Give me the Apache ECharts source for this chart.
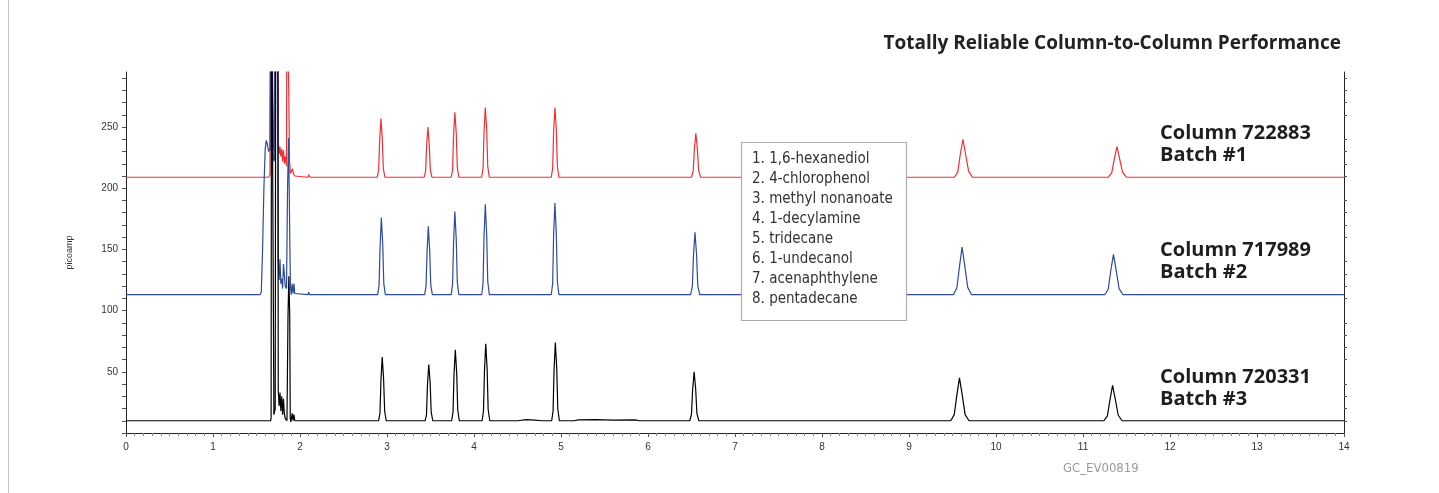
<!DOCTYPE html>
<html>
<head>
<meta charset="utf-8">
<script src="https://cdn.jsdelivr.net/npm/echarts@6/dist/echarts.min.js"></script>
<style>
html,body{margin:0;padding:0;background:#fff;}
#chart{width:1439px;height:493px;}
</style>
</head>
<body>
<div id="chart"></div>
<script>
// ---- data (retention time [min], signal [picoamp]) ----
const redTrace = [
  [0,209],[1.64,209],[1.655,211],[1.665,400],[1.685,400],[1.69,240],[1.70,232],[1.715,400],[1.74,400],
  [1.75,238],[1.76,228],[1.77,234],[1.78,226],[1.79,232],[1.80,222],[1.81,231],[1.82,220],[1.83,226],
  [1.845,218],[1.85,400],[1.872,400],[1.88,222],[1.89,212],[1.905,212],[1.915,216],[1.925,212],[1.94,210],
  [2.09,209],[2.10,211],[2.115,209],
  [2.888,209],[2.904,215],[2.915,238],[2.93,257],[2.946,240],[2.958,216],[2.976,209],
  [3.428,209],[3.444,214],[3.455,234],[3.47,250],[3.486,235],[3.498,215],[3.516,209],
  [3.738,209],[3.754,215],[3.765,243],[3.78,262],[3.796,245],[3.808,217],[3.826,209],
  [4.088,209],[4.104,216],[4.115,246],[4.13,266],[4.146,248],[4.158,218],[4.176,209],
  [4.888,209],[4.904,216],[4.915,246],[4.93,266],[4.946,248],[4.958,218],[4.976,209],
  [6.50,209],[6.52,214],[6.532,231],[6.55,245],[6.568,232],[6.582,214.5],[6.605,209],
  [9.52,209],[9.56,213],[9.59,228],[9.62,240],[9.65,228],[9.685,214],[9.73,209],
  [11.29,209],[11.33,212.5],[11.36,224],[11.39,234],[11.42,224.5],[11.455,213],[11.50,209],
  [14,209]
];
const blueTrace = [
  [0,113],[1.54,113],[1.555,115],[1.57,150],[1.585,200],[1.60,232],[1.612,239],[1.625,236],[1.64,230],
  [1.655,232],[1.663,400],[1.683,400],[1.69,225],[1.705,222],[1.718,400],[1.742,400],[1.75,140],[1.76,125],
  [1.77,142],[1.78,122],[1.79,126],[1.80,118],[1.81,138],[1.82,130],[1.83,120],[1.845,118],[1.857,200],
  [1.868,241],[1.876,200],[1.884,150],[1.89,120],[1.90,113],[1.91,122],[1.92,114],[1.93,122],[1.94,114],
  [1.96,113],[2.09,113],[2.10,115],[2.11,113],[2.40,113],[2.41,114.5],[2.43,113],[2.78,113],[2.80,114.5],[2.82,113],
  [2.893,113],[2.909,121],[2.92,151],[2.935,176],[2.951,154],[2.963,122],[2.981,113],
  [3.433,113],[3.449,120],[3.46,147],[3.475,169],[3.491,149],[3.503,121],[3.521,113],
  [3.738,113],[3.754,122],[3.765,155],[3.78,181],[3.796,158],[3.808,123],[3.826,113],
  [4.088,113],[4.104,122],[4.115,160],[4.13,187],[4.146,162],[4.158,124],[4.176,113],
  [4.888,113],[4.904,122],[4.915,161],[4.93,188],[4.946,163],[4.958,124],[4.976,113],
  [6.49,113],[6.51,120],[6.522,144],[6.54,164],[6.558,146],[6.572,120.5],[6.595,113],
  [9.51,113],[9.55,118.5],[9.58,136],[9.61,152],[9.64,137],[9.675,119],[9.72,113],
  [11.25,113],[11.29,117.5],[11.32,133],[11.35,146],[11.38,133.5],[11.415,118],[11.46,113],
  [14,113]
];
const blackTrace = [
  [0,10],[1.66,10],[1.668,12],[1.673,400],[1.695,400],[1.70,15],[1.715,20],[1.722,400],[1.745,400],
  [1.75,35],[1.76,22],[1.77,33],[1.78,18],[1.79,30],[1.80,15],[1.81,28],[1.82,16],[1.83,12],[1.85,10],
  [1.862,95],[1.872,128],[1.882,95],[1.888,12],[1.895,9],[1.91,16],[1.92,10],[1.93,15],[1.94,10],
  [2.903,10],[2.919,16],[2.93,42],[2.945,62],[2.961,44],[2.973,18],[2.991,10],
  [3.438,10],[3.454,15],[3.465,39],[3.48,56],[3.496,41],[3.508,17],[3.526,10],
  [3.743,10],[3.759,17],[3.77,47],[3.785,68],[3.801,49],[3.813,19],[3.831,10],
  [4.093,10],[4.109,18],[4.12,50],[4.135,73],[4.151,52],[4.163,19],[4.181,10],
  [4.50,10],[4.52,10.7],[4.60,10.9],[4.70,10.6],[4.78,10],
  [4.893,10],[4.909,18],[4.92,51],[4.935,74],[4.951,53],[4.963,20],[4.981,10],
  [5.15,10],[5.2,10.7],[5.4,10.9],[5.6,10.6],[5.85,10.7],[5.9,10],[6.22,10],[6.24,11],[6.26,10],
  [6.48,10],[6.50,15.5],[6.512,34],[6.53,50],[6.548,36],[6.562,16],[6.585,10],
  [7.48,10],[7.5,11],[7.52,10],[8.42,10],[8.43,10.8],[8.44,10],
  [9.48,10],[9.52,15],[9.55,31],[9.58,45],[9.61,32],[9.645,15],[9.69,10],
  [11.24,10],[11.28,14],[11.31,27],[11.34,39],[11.37,28],[11.405,14.5],[11.45,10],
  [14,10]
];
const yTickValues = [0,10,20,30,40,50,60,70,80,90,100,110,120,130,140,150,160,170,180,190,200,210,220,230,240,250,260,270,280,290];
const yLabelValues = [50,100,150,200,250];
const rightTickValues = [10,20,30,40,60,70,80,90,110,120,130,140,160,170,180,190,210,220,230,240,260,270,280,290];
const compoundList = [
  '1. 1,6-hexanediol','2. 4-chlorophenol','3. methyl nonanoate','4. 1-decylamine',
  '5. tridecane','6. 1-undecanol','7. acenaphthylene','8. pentadecane'
];
const columnLabels = [
  ['Column 722883','Batch #1'],
  ['Column 717989','Batch #2'],
  ['Column 720331','Batch #3']
];
const chartTitle = 'Totally Reliable Column-to-Column Performance';
const figureCode = 'GC_EV00819';
const yAxisName = 'picoamp';

// ---- chart ----
const chart = echarts.init(document.getElementById('chart'), null, {renderer:'canvas'});
const labelY = [[133,155],[250,272],[377,399]];
const graphics = [
  {type:'line', shape:{x1:8.5,y1:0,x2:8.5,y2:493}, style:{stroke:'#c4c4c4', lineWidth:1}, z:100},
  {type:'text', x:1341, y:44, style:{text:chartTitle, font:'bold 19px "Open Sans"', fill:'#222', align:'right', verticalAlign:'middle'}, z:100},
  {type:'rect', shape:{x:741.5,y:142.5,width:165,height:178}, style:{fill:'#fff', stroke:'#adadad', lineWidth:1.2}, z:100},
  {type:'text', x:1063, y:469, style:{text:figureCode, font:'13px "Liberation Sans Narrow", "DejaVu Sans Condensed", sans-serif', fill:'#9a9a9a', align:'left', verticalAlign:'middle'}, z:100}
];
compoundList.forEach((t,i)=>{
  graphics.push({type:'text', x:752, y:159+20*i, style:{text:t, font:'15px "Liberation Sans Narrow", "DejaVu Sans Condensed", sans-serif', fill:'#333', align:'left', verticalAlign:'middle'}, z:101});
});
columnLabels.forEach((pair,i)=>{
  pair.forEach((t,j)=>{
    graphics.push({type:'text', x:1160, y:labelY[i][j], style:{text:t, font:'bold 20px "Open Sans"', fill:'#1e1e1e', align:'left', verticalAlign:'middle'}, z:100});
  });
});

const axisFont = 'Liberation Sans';
const option = {
  animation:false,
  backgroundColor:'#fff',
  grid:{left:126, right:95, top:72, bottom:60, containLabel:false},
  xAxis:{
    type:'value', min:0, max:14, interval:1,
    axisLine:{show:true, onZero:false, lineStyle:{color:'#222', width:1}},
    axisTick:{show:true, length:4, lineStyle:{color:'#555'}},
    minorTick:{show:true, splitNumber:10, length:3, lineStyle:{color:'#888'}},
    splitLine:{show:false}, minorSplitLine:{show:false},
    axisLabel:{margin:9, fontSize:10, color:'#333', fontFamily:axisFont}
  },
  yAxis:[
    {
      type:'value', min:0, max:295, position:'left',
      name:yAxisName, nameLocation:'middle', nameGap:52, nameRotate:90,
      nameTextStyle:{fontSize:9, color:'#333', fontFamily:axisFont},
      axisLine:{show:true, onZero:false, lineStyle:{color:'#222', width:1}},
      axisTick:{show:true, length:4, customValues:yTickValues, lineStyle:{color:'#555'}},
      axisLabel:{show:true, customValues:yLabelValues, margin:8, fontSize:10, color:'#333', fontFamily:axisFont},
      splitLine:{show:false}
    },
    {
      type:'value', min:0, max:295, position:'right',
      axisLine:{show:true, onZero:false, lineStyle:{color:'#222', width:1}},
      axisTick:{show:true, length:3, customValues:rightTickValues, lineStyle:{color:'#555'}},
      axisLabel:{show:false},
      splitLine:{show:false}
    }
  ],
  series:[
    {type:'line', data:redTrace, symbol:'none', showSymbol:false, clip:true, lineStyle:{color:'#ee3035', width:1.2}, z:2},
    {type:'line', data:blueTrace, symbol:'none', showSymbol:false, clip:true, lineStyle:{color:'#2d4a9d', width:1.2}, z:3},
    {type:'line', data:blackTrace, symbol:'none', showSymbol:false, clip:true, lineStyle:{color:'#000', width:1.2}, z:4}
  ],
  graphic:graphics
};
chart.setOption(option);
</script>
</body>
</html>
